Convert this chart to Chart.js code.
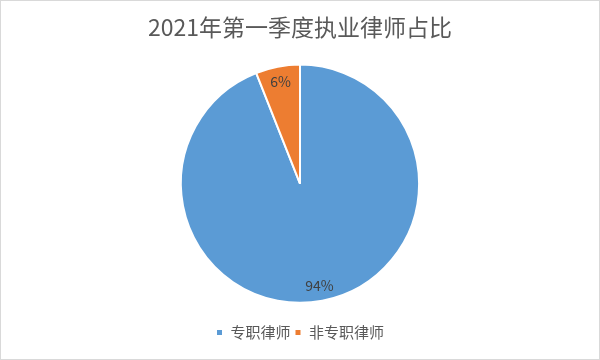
<!DOCTYPE html>
<html><head><meta charset="utf-8">
<script src="https://cdn.jsdelivr.net/npm/chart.js@4"></script>
<style>html,body{margin:0;padding:0;background:#fff;}#w{width:600px;height:360px;}</style>
</head><body><div id="w"><canvas id="c" width="600" height="360"></canvas></div>
<script>
const titleText = '2021年第一季度执业律师占比';
const categories = ['专职律师', '非专职律师'];
const values = [94, 6];
const colors = ['#5B9BD5', '#ED7D31'];
const FONT = '"Noto Sans CJK SC","Noto Sans",sans-serif';

const labelPlugin = {
  id: 'pctLabels',
  afterDatasetsDraw(chart) {
    const ctx = chart.ctx;
    const meta = chart.getDatasetMeta(0);
    const total = values.reduce((a, b) => a + b, 0);
    ctx.save();
    ctx.font = '14px ' + FONT;
    ctx.fillStyle = '#404040';
    ctx.textAlign = 'center';
    ctx.textBaseline = 'middle';
    meta.data.forEach((arc, i) => {
      const p = arc.getProps(['x', 'y', 'startAngle', 'endAngle', 'outerRadius'], true);
      const a = (p.startAngle + p.endAngle) / 2;
      const r = p.outerRadius * 0.87;
      ctx.fillText(Math.round(values[i] / total * 100) + '%', p.x + Math.cos(a) * r, p.y + Math.sin(a) * r);
    });
    ctx.restore();
  }
};
const framePlugin = {
  id: 'frame',
  beforeDraw(chart) {
    const ctx = chart.ctx;
    ctx.save();
    ctx.fillStyle = '#fff';
    ctx.fillRect(0, 0, chart.width, chart.height);
    ctx.restore();
  },
  afterDraw(chart) {
    const ctx = chart.ctx;
    ctx.save();
    ctx.strokeStyle = '#d9d9d9';
    ctx.lineWidth = 1;
    ctx.strokeRect(0.5, 0.5, chart.width - 1, chart.height - 1);
    ctx.restore();
  }
};

new Chart(document.getElementById('c'), {
  type: 'pie',
  data: {
    labels: categories,
    datasets: [{ data: values, backgroundColor: colors, borderColor: '#fff', borderWidth: 2 }]
  },
  options: {
    responsive: false,
    animation: false,
    layout: { padding: { top: 0, bottom: 10 } },
    plugins: {
      title: {
        display: true, text: titleText, color: '#595959',
        font: { family: FONT, size: 23, weight: 'normal' },
        padding: { top: 13, bottom: 23 }
      },
      legend: {
        position: 'bottom',
        title: { display: true, text: ' ', font: { size: 1 }, padding: { top: 0, bottom: 16 } },
        labels: {
          color: '#595959', boxWidth: 7, boxHeight: 7, padding: 4,
          font: { family: FONT, size: 15 }
        }
      },
      tooltip: { enabled: false }
    }
  },
  plugins: [labelPlugin, framePlugin]
});
</script></body></html>
